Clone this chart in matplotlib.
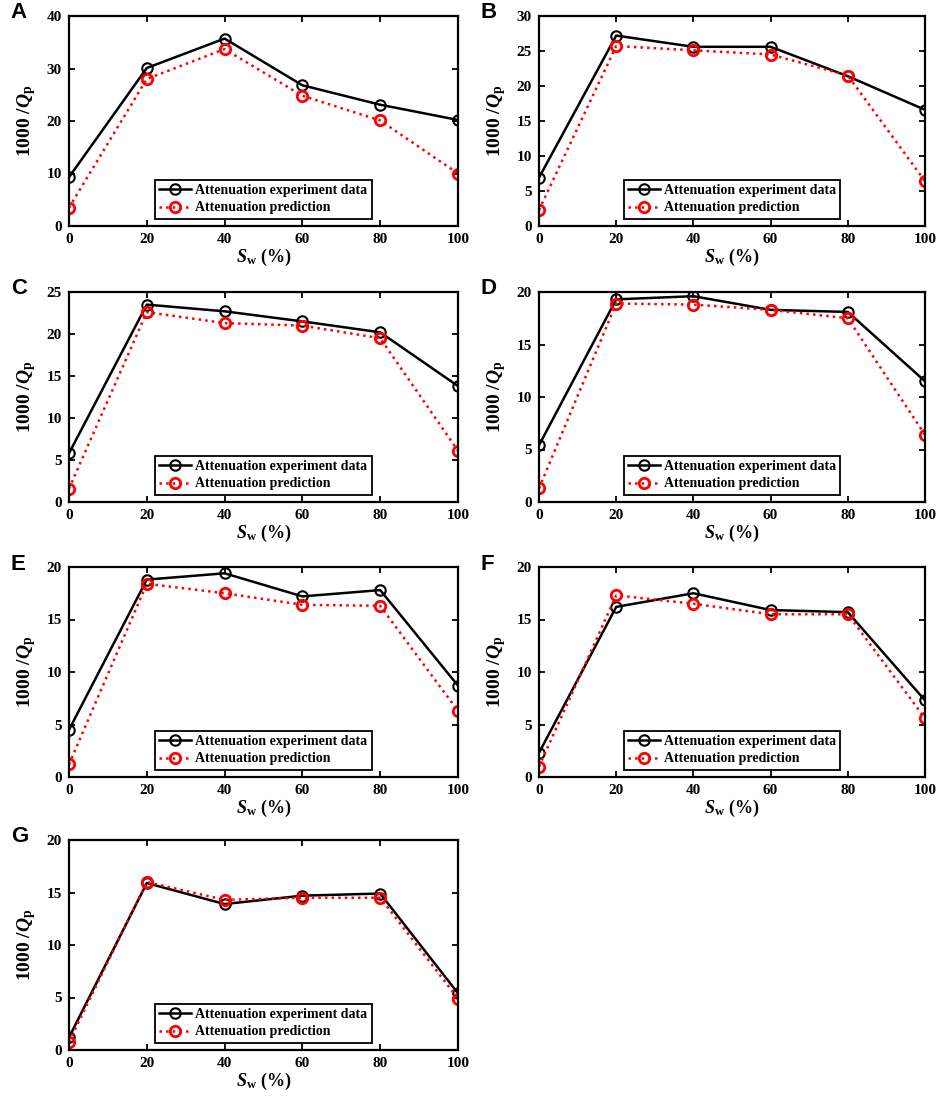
import numpy as np
import matplotlib
matplotlib.use('Agg')
from matplotlib import pyplot as plt

sw = [0, 20, 40, 60, 80, 100]

## experiment / prediction, one pair per panel
exp_A = [9.3, 30.1, 35.7, 26.8, 23.1, 20.2]
pre_A = [3.5, 28.0, 33.7, 24.8, 20.1, 10.0]
exp_B = [6.9, 27.2, 25.6, 25.6, 21.4, 16.6]
pre_B = [2.3, 25.7, 25.1, 24.5, 21.5, 6.4]
exp_C = [5.8, 23.5, 22.7, 21.5, 20.2, 13.8]
pre_C = [1.6, 22.6, 21.3, 21.0, 19.5, 6.1]
exp_D = [5.4, 19.3, 19.6, 18.3, 18.1, 11.5]
pre_D = [1.3, 18.9, 18.8, 18.3, 17.5, 6.4]
exp_E = [4.5, 18.8, 19.4, 17.2, 17.8, 8.7]
pre_E = [1.2, 18.4, 17.5, 16.4, 16.3, 6.3]
exp_F = [2.3, 16.2, 17.5, 15.9, 15.7, 7.3]
pre_F = [1.0, 17.3, 16.5, 15.5, 15.5, 5.6]
exp_G = [1.2, 15.9, 13.9, 14.7, 14.9, 5.4]
pre_G = [0.8, 16.0, 14.3, 14.5, 14.5, 4.9]

panels = ['A', 'B', 'C', 'D', 'E', 'F', 'G']
exps = [exp_A, exp_B, exp_C, exp_D, exp_E, exp_F, exp_G]
pres = [pre_A, pre_B, pre_C, pre_D, pre_E, pre_F, pre_G]
ymax = [40, 30, 25, 20, 20, 20, 20]
ystep = [10, 5, 5, 5, 5, 5, 5]

plt.rcParams['font.family'] = 'Liberation Serif'
plt.rcParams['font.weight'] = 'bold'
plt.rcParams['mathtext.fontset'] = 'custom'
plt.rcParams['mathtext.rm'] = 'Liberation Serif:bold'
plt.rcParams['mathtext.it'] = 'Liberation Serif:italic:bold'
plt.rcParams['mathtext.bf'] = 'Liberation Serif:bold'

fig = plt.figure(figsize=(9.41, 10.97), dpi=100)

W, H = 1097.0, 210.0 / 1097
lefts = [69 / 941, 539 / 941]
widths = [389 / 941, 386 / 941]
tops = [16, 292, 567, 840]

for i, name in enumerate(panels):
    r, c = i // 2, i % 2
    bottom = 1 - (tops[r] + 210) / W
    ax = fig.add_axes([lefts[c], bottom, widths[c], H])
    ax.plot(sw, exps[i], '-', color='black', lw=1.8, marker='o', ms=7.5,
            mfc='none', mec='black', mew=1.5, label='Attenuation experiment data')
    ax.plot(sw, pres[i], ':', color='red', lw=1.8, marker='o', ms=7.5,
            mfc='none', mec='red', mew=2, label='Attenuation prediction')
    ax.set_xlim(0, 100)
    ax.set_ylim(0, ymax[i])
    ax.set_xticks(sw)
    ax.set_yticks(np.arange(0, ymax[i] + 1, ystep[i]))
    ax.tick_params(direction='in', top=True, right=True, labelsize=11, width=1.3, length=4, pad=5)
    for s in ax.spines.values():
        s.set_linewidth(1.6)
    ax.set_xlabel(r'$S_{\mathrm{w}}$ (%)', fontsize=13, fontweight='bold', labelpad=1)
    ax.set_ylabel(r'1000 /$Q_{\mathrm{p}}$', fontsize=14, fontweight='bold', labelpad=6)
    leg = ax.legend(loc='lower center', bbox_to_anchor=(0.5, 0.035), fontsize=10,
                    fancybox=False, edgecolor='black', framealpha=1, handlelength=2.3,
                    borderpad=0.3, labelspacing=0.3, handletextpad=0.3, borderaxespad=0)
    leg.get_frame().set_linewidth(1.3)
    fig.text(lefts[c] - 0.062, 1 - (tops[r] - 3) / W, name, fontsize=16,
             fontweight='bold', family='Liberation Sans', va='center', ha='left')

fig.savefig('out.png', dpi=100)
